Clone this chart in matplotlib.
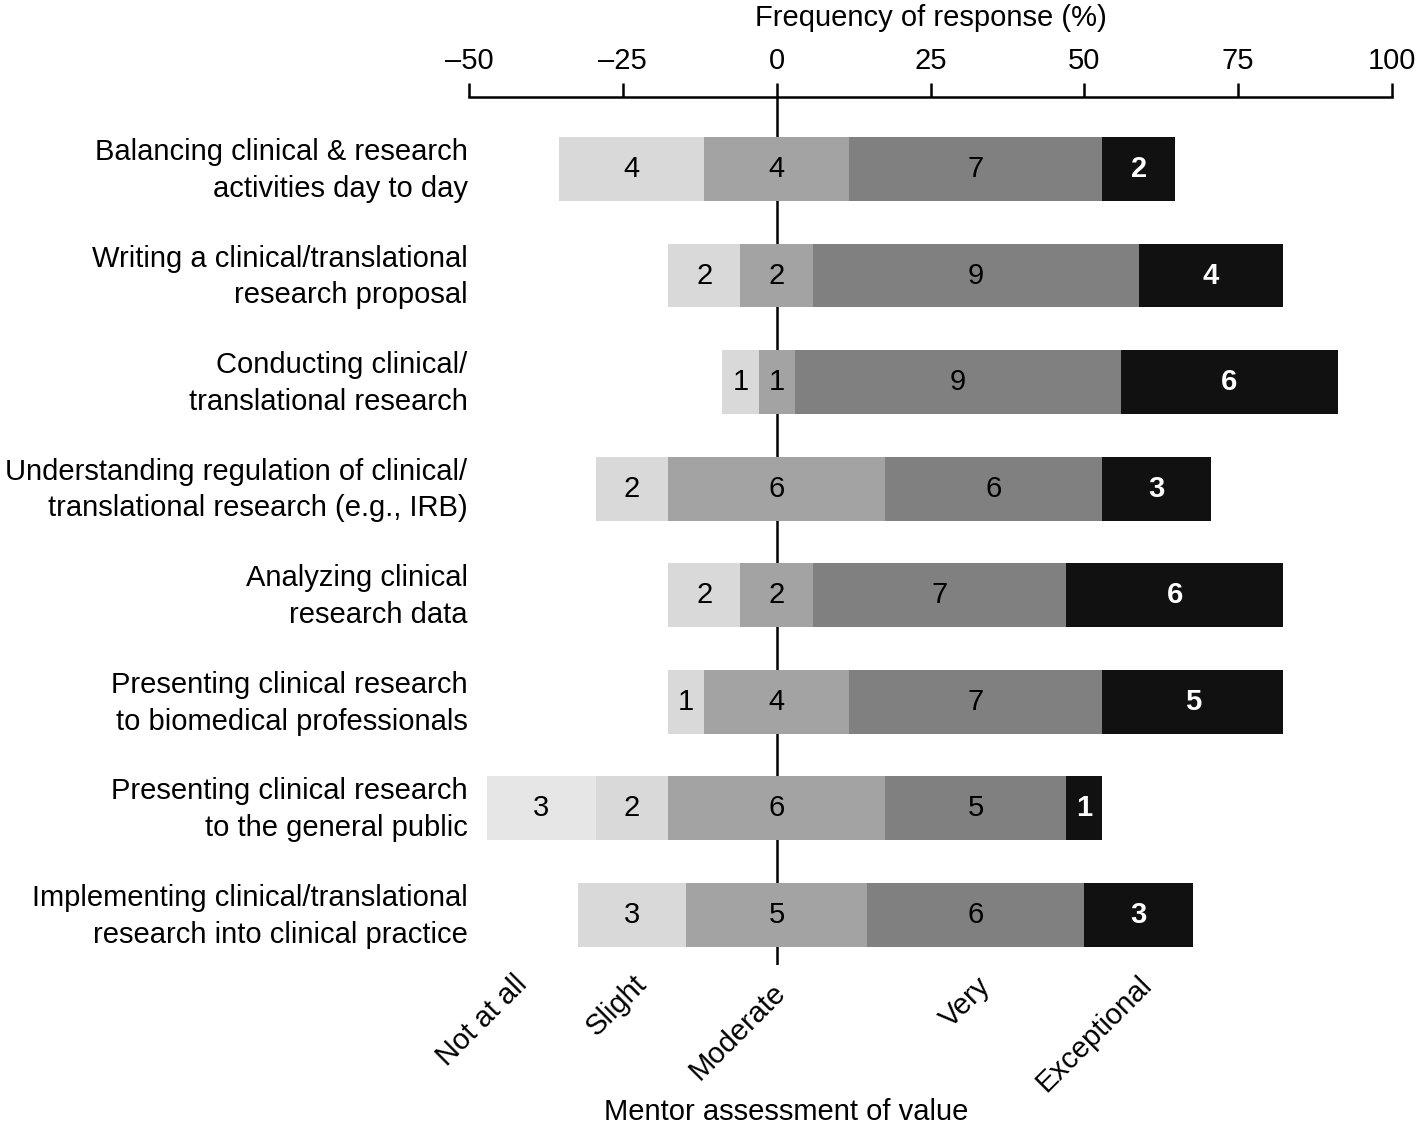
import numpy as np
import matplotlib
matplotlib.use('Agg')
import matplotlib.pyplot as plt
from matplotlib.transforms import blended_transform_factory, ScaledTranslation

plt.rcParams['font.family'] = ['Liberation Sans', 'DejaVu Sans']

# Row labels (top to bottom)
rows = [
    "Balancing clinical & research\nactivities day to day",
    "Writing a clinical/translational\nresearch proposal",
    "Conducting clinical/\ntranslational research",
    "Understanding regulation of clinical/\ntranslational research (e.g., IRB)",
    "Analyzing clinical\nresearch data",
    "Presenting clinical research\nto biomedical professionals",
    "Presenting clinical research\nto the general public",
    "Implementing clinical/translational\nresearch into clinical practice",
]
levels = ["Not at all", "Slight", "Moderate", "Very", "Exceptional"]

# Response counts per row
not_at_all  = [0, 0, 0, 0, 0, 0, 3, 0]
slight      = [4, 2, 1, 2, 2, 1, 2, 3]
moderate    = [4, 2, 1, 6, 2, 4, 6, 5]
very        = [7, 9, 9, 6, 7, 7, 5, 6]
exceptional = [2, 4, 6, 3, 6, 5, 1, 3]

colors = ['#e6e6e6', '#d9d9d9', '#a3a3a3', '#808080', '#111111']
text_colors = ['black', 'black', 'black', 'black', 'white']
text_weights = ['normal', 'normal', 'normal', 'normal', 'bold']

counts = np.array([not_at_all, slight, moderate, very, exceptional], dtype=float)
totals = counts.sum(axis=0)
pct = counts / totals * 100

# left edge: moderate centred on zero
starts = -(pct[0] + pct[1] + pct[2] / 2)

FS = 21

fig = plt.figure(figsize=(14.18, 11.26), dpi=100)
W, H = 1418, 1126
ax = fig.add_axes([469 / W, 1 - 965 / H, (1392 - 469) / W, (965 - 97) / H])

y = np.arange(len(rows))
left = starts.copy()
for k in range(len(levels)):
    ax.barh(y, pct[k], left=left, height=0.6, color=colors[k], edgecolor='none', zorder=2)
    for i in range(len(rows)):
        if counts[k, i] > 0:
            ax.text(left[i] + pct[k, i] / 2, y[i], f"{int(counts[k, i])}",
                    ha='center', va='center', fontsize=FS, color=text_colors[k],
                    fontweight=text_weights[k], zorder=4)
    left = left + pct[k]

ax.axvline(0, color='black', lw=1.8, zorder=1)

ax.set_xlim(-50, 100)
ax.set_ylim(7.47, -0.675)

ax.xaxis.tick_top()
ax.xaxis.set_label_position('top')
xt = [-50, -25, 0, 25, 50, 75, 100]
ax.set_xticks(xt)
ax.set_xticklabels([str(v).replace('-', '\u2013') for v in xt], fontsize=FS)
ax.tick_params(axis='x', length=10, width=1.8, pad=6)
ax.set_xlabel('Frequency of response (%)', fontsize=FS, labelpad=15)

ax.set_yticks(y)
ax.set_yticklabels(rows, fontsize=FS, linespacing=1.4)
ax.tick_params(axis='y', length=0, pad=1)
# nudge the two-line labels up a little
shift = ScaledTranslation(0, 6 / 100, fig.dpi_scale_trans)
for lab in ax.get_yticklabels():
    lab.set_transform(lab.get_transform() + shift)

for s in ['right', 'left', 'bottom']:
    ax.spines[s].set_visible(False)
ax.spines['top'].set_linewidth(1.8)

# category labels under the chart
trans = blended_transform_factory(ax.transData, fig.transFigure)
label_x = [-42.8, -23.5, -0.9, 32.4, 58.6]
label_y = [970, 970, 978, 972, 970]
for name, lx, ly in zip(levels, label_x, label_y):
    ax.text(lx, 1 - ly / H, name, transform=trans, rotation=45, rotation_mode='anchor',
            ha='right', va='top', fontsize=FS)

ax.text(1.6, 1 - 1112 / H, 'Mentor assessment of value', transform=trans,
        ha='center', va='center', fontsize=FS)

fig.savefig('out.png', dpi=100)
